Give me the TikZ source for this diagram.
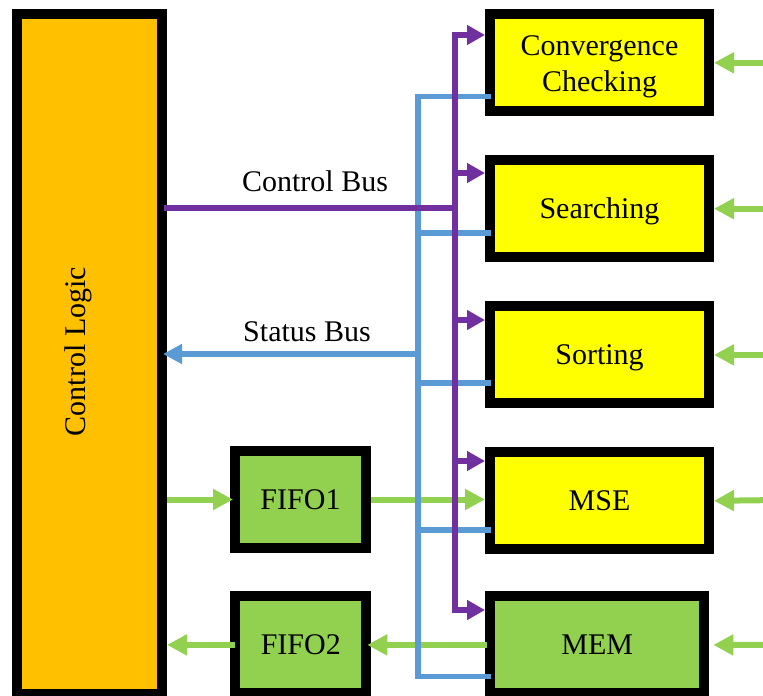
\documentclass[tikz,border=0pt]{standalone}
\usepackage{fontspec}
\setmainfont{Liberation Serif}
\usetikzlibrary{arrows.meta,calc}
\definecolor{clorange}{HTML}{FFC000}
\definecolor{boxyellow}{HTML}{FFFF00}
\definecolor{boxgreen}{HTML}{92D050}
\definecolor{buspurple}{HTML}{7030A0}
\definecolor{busblue}{HTML}{5B9BD5}
\begin{document}
\begin{tikzpicture}[x=1pt,y=-1pt,
  box/.style={draw=black,line width=10pt,inner sep=0pt,minimum height=97pt},
  lbl/.style={font=\fontsize{30}{36}\selectfont,text height=20pt,text depth=0pt},
  ybox/.style={box,fill=boxyellow,minimum width=219pt},
  gbox/.style={box,fill=boxgreen},
  garrow/.style={draw=boxgreen,line width=6pt,-{Triangle[length=20pt,width=20pt]}},
  pbus/.style={draw=buspurple,line width=5.5pt,line cap=rect},
  parrow/.style={draw=buspurple,line width=5.5pt,-{Triangle[length=18pt,width=19pt]}},
  bbus/.style={draw=busblue,line width=5.5pt,line cap=rect},
  barrow/.style={draw=busblue,line width=5.5pt,-{Triangle[length=19pt,width=19pt]}}
]
\useasboundingbox (0,0) rectangle (763,696);
\clip (0,0) rectangle (763,696);

% boxes
\node[box,fill=clorange,minimum width=145pt,minimum height=679.7pt] (cl) at (89.5,354.2) {};
\node[lbl,rotate=90] (cltext) at (75,351.5) {Control Logic};
\node[ybox,font=\fontsize{30}{36}\selectfont,align=center] (conv) at (599.5,62.8) {\rule{0pt}{27pt}Convergence\\Checking};
\node[ybox,lbl] (search) at (599.5,208.7) {Searching};
\node[ybox,lbl] (sort) at (599.5,354.9) {Sorting};
\node[ybox,lbl] (mse) at (599.5,500.8) {MSE};
\node[gbox,lbl,minimum width=214.3pt] (mem) at (597.2,644.9) {MEM};
\node[gbox,lbl,minimum width=131pt] (fifo1) at (300.5,499.5) {FIFO1};
\node[gbox,lbl,minimum width=131pt] (fifo2) at (300.8,644.9) {FIFO2};

% bus labels
\node[lbl] (cbus) at (315,181.7) {Control Bus};
\node[lbl] (sbus) at (307,331) {Status Bus};

% green data arrows
\coordinate (r1) at (780,62.8);
\coordinate (r2) at (780,208.7);
\coordinate (r3) at (780,354.9);
\coordinate (r4) at (780,500);
\coordinate (r5) at (780,645);
\draw[garrow] (r1) -- (conv.east);
\draw[garrow] (r2) -- (search.east);
\draw[garrow] (r3) -- (sort.east);
\draw[garrow] (r4) -- (mse.east);
\draw[garrow] (r5) -- ($(mem.east)+(4,0)$);
\draw[garrow] (fifo1.west -| cl.east) -- ($(fifo1.west)+(3,0)$);
\draw[garrow] (fifo1.east) -- (fifo1.east -| mse.west);
\draw[garrow] ($(mem.west)+(2,0)$) -- ($(fifo2.east)+(-4,0)$);
\draw[garrow] ($(fifo2.west)+(5,0)$) -- (fifo2.west -| cl.east);

% status bus (blue)
\coordinate (b1) at (418,96.5);
\coordinate (b2) at (418,233);
\coordinate (b3) at (418,383);
\coordinate (b4) at (418,530);
\coordinate (b5) at (418,676.5);
\coordinate (bsb) at (418,354);
\draw[bbus] (b1) -- (b5);
\draw[bbus] (b1) -- ($(b1 -| conv.west)+(3,0)$);
\draw[bbus] (b2) -- ($(b2 -| search.west)+(3,0)$);
\draw[bbus] (b3) -- ($(b3 -| sort.west)+(3,0)$);
\draw[bbus] (b4) -- ($(b4 -| mse.west)+(3,0)$);
\draw[bbus] (b5) -- ($(b5 -| mem.west)+(3,0)$);
\draw[barrow] (bsb) -- ($(bsb -| cl.east)+(-4,0)$);

% control bus (purple)
\coordinate (p1) at (455,35);
\coordinate (p2) at (455,173);
\coordinate (p3) at (455,320);
\coordinate (p4) at (455,461);
\coordinate (p5) at (455,610);
\coordinate (pcb) at (455,208);
\draw[pbus] (p1) -- (p5);
\draw[pbus] (pcb -| cl.east) -- (pcb);
\draw[parrow] (p1) -- (p1 -| conv.west);
\draw[parrow] (p2) -- (p2 -| search.west);
\draw[parrow] (p3) -- (p3 -| sort.west);
\draw[parrow] (p4) -- (p4 -| mse.west);
\draw[parrow] (p5) -- (p5 -| mem.west);
\end{tikzpicture}
\end{document}
